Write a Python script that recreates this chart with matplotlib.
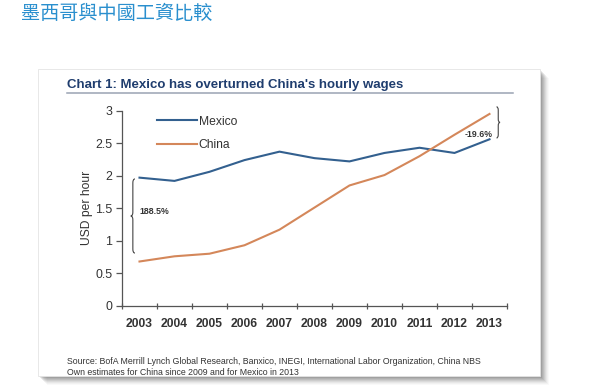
import matplotlib
matplotlib.use("Agg")
import matplotlib.pyplot as plt
from matplotlib.patches import Rectangle, PathPatch
from matplotlib.path import Path
from matplotlib.lines import Line2D

years = ["2003", "2004", "2005", "2006", "2007", "2008", "2009", "2010", "2011", "2012", "2013"]
mexico = [1.97, 1.92, 2.06, 2.24, 2.37, 2.27, 2.22, 2.35, 2.43, 2.35, 2.56]
china = [0.68, 0.76, 0.80, 0.93, 1.17, 1.51, 1.85, 2.01, 2.30, 2.63, 2.95]
y_ticks = [0, 0.5, 1, 1.5, 2, 2.5, 3]
y_ticklabels = ["0", "0.5", "1", "1.5", "2", "2.5", "3"]
gap_start_label = "188.5%"
gap_end_label = "-19.6%"

W, H = 600, 386
fig = plt.figure(figsize=(W / 100, H / 100), dpi=100)
fig.patch.set_facecolor("white")

def fx(px):
    return px / W

def fy(py):
    return 1 - py / H

# card shadow
for i, a in enumerate([0.12, 0.12, 0.11, 0.10, 0.09, 0.07, 0.05, 0.04, 0.03]):
    off = i + 1
    fig.patches.append(Rectangle((fx(38 + off), fy(376 + off)), fx(502), 307 / H,
                                 transform=fig.transFigure, facecolor="#404040",
                                 alpha=a, edgecolor="none", zorder=0))
fig.patches.append(Rectangle((fx(38), fy(376)), fx(502), 307 / H,
                             transform=fig.transFigure, facecolor="white",
                             edgecolor="#e4e4e4", lw=0.6, zorder=1))

# Chinese page title
fig.text(fx(21), fy(13.5), "墨西哥與中國工資比較", fontsize=13.8, color="#2a8fce",
         family=["Noto Sans CJK TC", "DejaVu Sans"], va="center", ha="left", zorder=3)

# chart title and underline
fig.text(fx(67), fy(85), "Chart 1: Mexico has overturned China's hourly wages",
         fontsize=9.5, fontweight="bold", color="#1f3d6e", family="Liberation Sans",
         va="center", ha="left", zorder=3)
fig.lines.append(Line2D([fx(67), fx(513)], [fy(92.7), fy(92.7)], transform=fig.transFigure,
                        color="#9aa3b3", lw=1.1, zorder=3))

# source
src_kw = dict(fontsize=6.3, color="#333333", family="Liberation Sans", va="center",
              ha="left", zorder=3)
fig.text(fx(67), fy(361), "Source: BofA Merrill Lynch Global Research, Banxico, INEGI, "
         "International Labor Organization, China NBS", **src_kw)
fig.text(fx(67), fy(372.7), "Own estimates for China since 2009 and for Mexico in 2013", **src_kw)

# axes
ax_left, ax_right = 122, 507
ax_top, ax_bottom = 110.7, 305.7
ax = fig.add_axes([fx(ax_left), fy(ax_bottom), (ax_right - ax_left) / W,
                   (ax_bottom - ax_top) / H])
ax.set_facecolor("none")
ax.set_zorder(4)

x = list(range(len(years)))
ax.plot(x, mexico, color="#33608f", lw=1.5, label="Mexico", clip_on=False, zorder=5)
ax.plot(x, china, color="#d4875a", lw=1.5, label="China", clip_on=False, zorder=5)

ax.set_xlim(-0.5, len(years) - 0.5)
ax.set_ylim(0, 3)
for s in ["top", "right"]:
    ax.spines[s].set_visible(False)
for s in ["left", "bottom"]:
    ax.spines[s].set_color("#555555")
    ax.spines[s].set_linewidth(0.9)

ax.set_yticks(y_ticks)
ax.set_yticklabels(y_ticklabels)
ax.tick_params(axis="y", direction="out", length=4, width=0.9, color="#555555",
               pad=3, labelsize=8.9, labelcolor="#333333")

ax.set_xticks([i - 0.5 for i in range(len(years) + 1)])
ax.set_xticklabels([])
ax.set_xticks(x, minor=True)
ax.set_xticklabels(years, minor=True)
ax.tick_params(axis="x", which="major", direction="inout", length=5, width=0.9, color="#555555")
ax.tick_params(axis="x", which="minor", length=0, pad=9, labelsize=8.7, labelcolor="#333333")
for lab in ax.get_xticklabels(minor=True):
    lab.set_family("Liberation Sans")
    lab.set_fontweight("bold")
for lab in ax.get_yticklabels():
    lab.set_family("Liberation Sans")

ax.set_ylabel("USD per hour", fontsize=8.7, family="Liberation Sans", color="#333333",
              labelpad=1.5)

leg = ax.legend(loc="upper left", bbox_to_anchor=(0.091, 0.975), frameon=False,
                handlelength=3.3, handletextpad=0.15, labelspacing=0.95,
                borderpad=0, borderaxespad=0,
                prop={"family": "Liberation Sans", "size": 8.7})
for t in leg.get_texts():
    t.set_color("#333333")


def brace(ax, xt, w, y0, y1, r):
    """vertical curly brace with tip at xt, ends at xt+w (w<0 gives '}')"""
    xm = xt + w / 2
    xe = xt + w
    ym = (y0 + y1) / 2
    verts = [(xe, y1), (xm, y1), (xm, y1 - r), (xm, ym + r), (xm, ym), (xt, ym),
             (xm, ym), (xm, ym - r), (xm, y0 + r), (xm, y0), (xe, y0)]
    codes = [Path.MOVETO, Path.CURVE3, Path.CURVE3, Path.LINETO, Path.CURVE3, Path.CURVE3,
             Path.CURVE3, Path.CURVE3, Path.LINETO, Path.CURVE3, Path.CURVE3]
    ax.add_patch(PathPatch(Path(verts, codes), facecolor="none", edgecolor="#444444",
                           lw=0.8, clip_on=False, zorder=6))

brace(ax, -0.25, 0.12, china[0] + 0.13, mexico[0] - 0.02, 0.06)
ax.text(-0.01, 1.45, gap_start_label, fontsize=6.3, fontweight="bold", family="Liberation Sans",
        color="#333333", ha="left", va="center", zorder=6)
brace(ax, 10.3, -0.1, mexico[-1] + 0.02, china[-1] + 0.11, 0.05)
ax.text(9.7, 2.64, gap_end_label, fontsize=6.3, fontweight="bold", family="Liberation Sans",
        color="#333333", ha="center", va="center", zorder=6)

fig.savefig("out.png", dpi=100, facecolor="white")
